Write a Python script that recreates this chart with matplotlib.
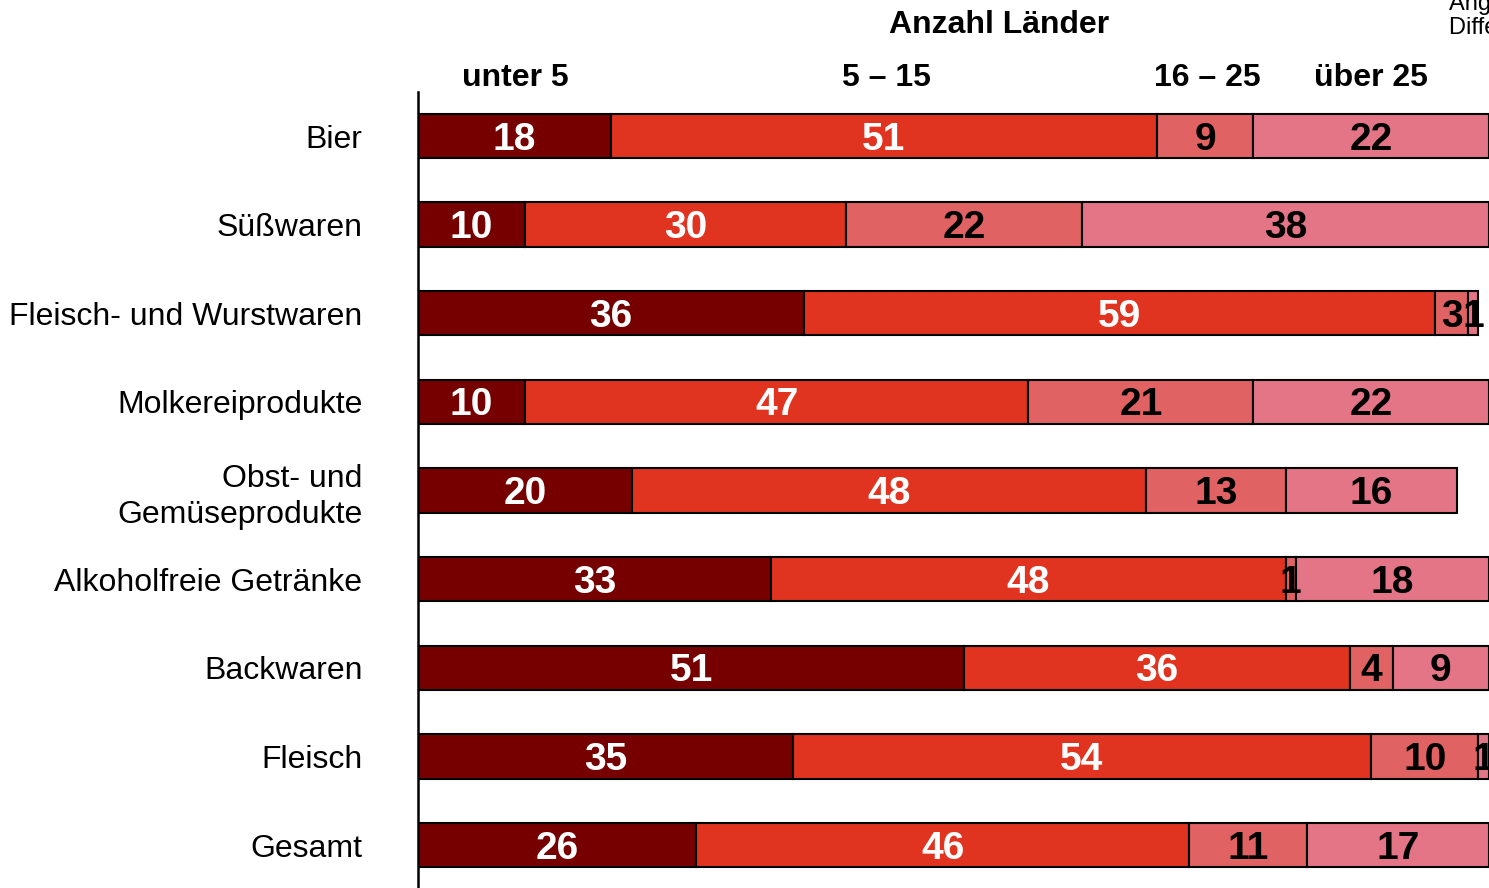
import matplotlib
matplotlib.use("Agg")
import matplotlib.pyplot as plt

plt.rcParams["font.family"] = ["Liberation Sans", "DejaVu Sans"]

categories = [
    "Bier",
    "Süßwaren",
    "Fleisch- und Wurstwaren",
    "Molkereiprodukte",
    "Obst- und\nGemüseprodukte",
    "Alkoholfreie Getränke",
    "Backwaren",
    "Fleisch",
    "Gesamt",
]
groups = ["unter 5", "5 – 15", "16 – 25", "über 25"]
unter_5 = [18, 10, 36, 10, 20, 33, 51, 35, 26]
von_5_bis_15 = [51, 30, 59, 47, 48, 48, 36, 54, 46]
von_16_bis_25 = [9, 22, 3, 21, 13, 1, 4, 10, 11]
ueber_25 = [22, 38, 1, 22, 16, 18, 9, 1, 17]

series = [unter_5, von_5_bis_15, von_16_bis_25, ueber_25]
colors = ["#760000", "#E03421", "#E06262", "#E37587"]
text_colors = ["white", "white", "black", "black"]

W, H = 1489, 888
fig = plt.figure(figsize=(W / 100, H / 100), dpi=100)

# axes: left edge at the vertical axis line, bars scaled 0..100
top_px, bot_px = 92, 888
ax = fig.add_axes([418 / W, 0, 1 - 418 / W, (bot_px - top_px) / H])
step = 88.625
y_top = -(136 - top_px) / step
y_bot = 8 + (bot_px - 845) / step
ax.set_xlim(0, 100)
ax.set_ylim(y_bot, y_top)

ypos = list(range(len(categories)))
left = [0] * len(categories)
for vals, col, tcol in zip(series, colors, text_colors):
    ax.barh(ypos, vals, left=left, height=0.5, color=col,
            edgecolor="black", linewidth=1.5, zorder=2)
    for y, v, l in zip(ypos, vals, left):
        ax.text(l + v / 2, y + 0.04, str(v), ha="center", va="center",
                fontsize=28, fontweight="bold", color=tcol, zorder=3)
    left = [a + b for a, b in zip(left, vals)]

for spine in ["top", "right", "bottom"]:
    ax.spines[spine].set_visible(False)
ax.spines["left"].set_linewidth(1.8)
ax.set_xticks([])
ax.set_yticks(ypos)
ax.set_yticklabels(categories, fontsize=23, linespacing=1.25)
ax.tick_params(axis="y", length=0, pad=40)
for lbl in ax.get_yticklabels():
    lbl.set_horizontalalignment("right")

# column headers
header_x = [515, 886, 1207, 1371]
for gx, g in zip(header_x, groups):
    fig.text(gx / W, 1 - 78 / H, g, ha="center", va="center",
             fontsize=23, fontweight="bold")
fig.text(999 / W, 1 - 25 / H, "Anzahl Länder", ha="center", va="center",
         fontsize=23, fontweight="bold")

# note in the top-right corner
fig.text(1449 / W, 1 - 4 / H, "Angaben in %", ha="left", va="center",
         fontsize=17)
fig.text(1449 / W, 1 - 28 / H, "Differenz zu 100: Rundung", ha="left",
         va="center", fontsize=17)

fig.savefig("out.png", dpi=100)
